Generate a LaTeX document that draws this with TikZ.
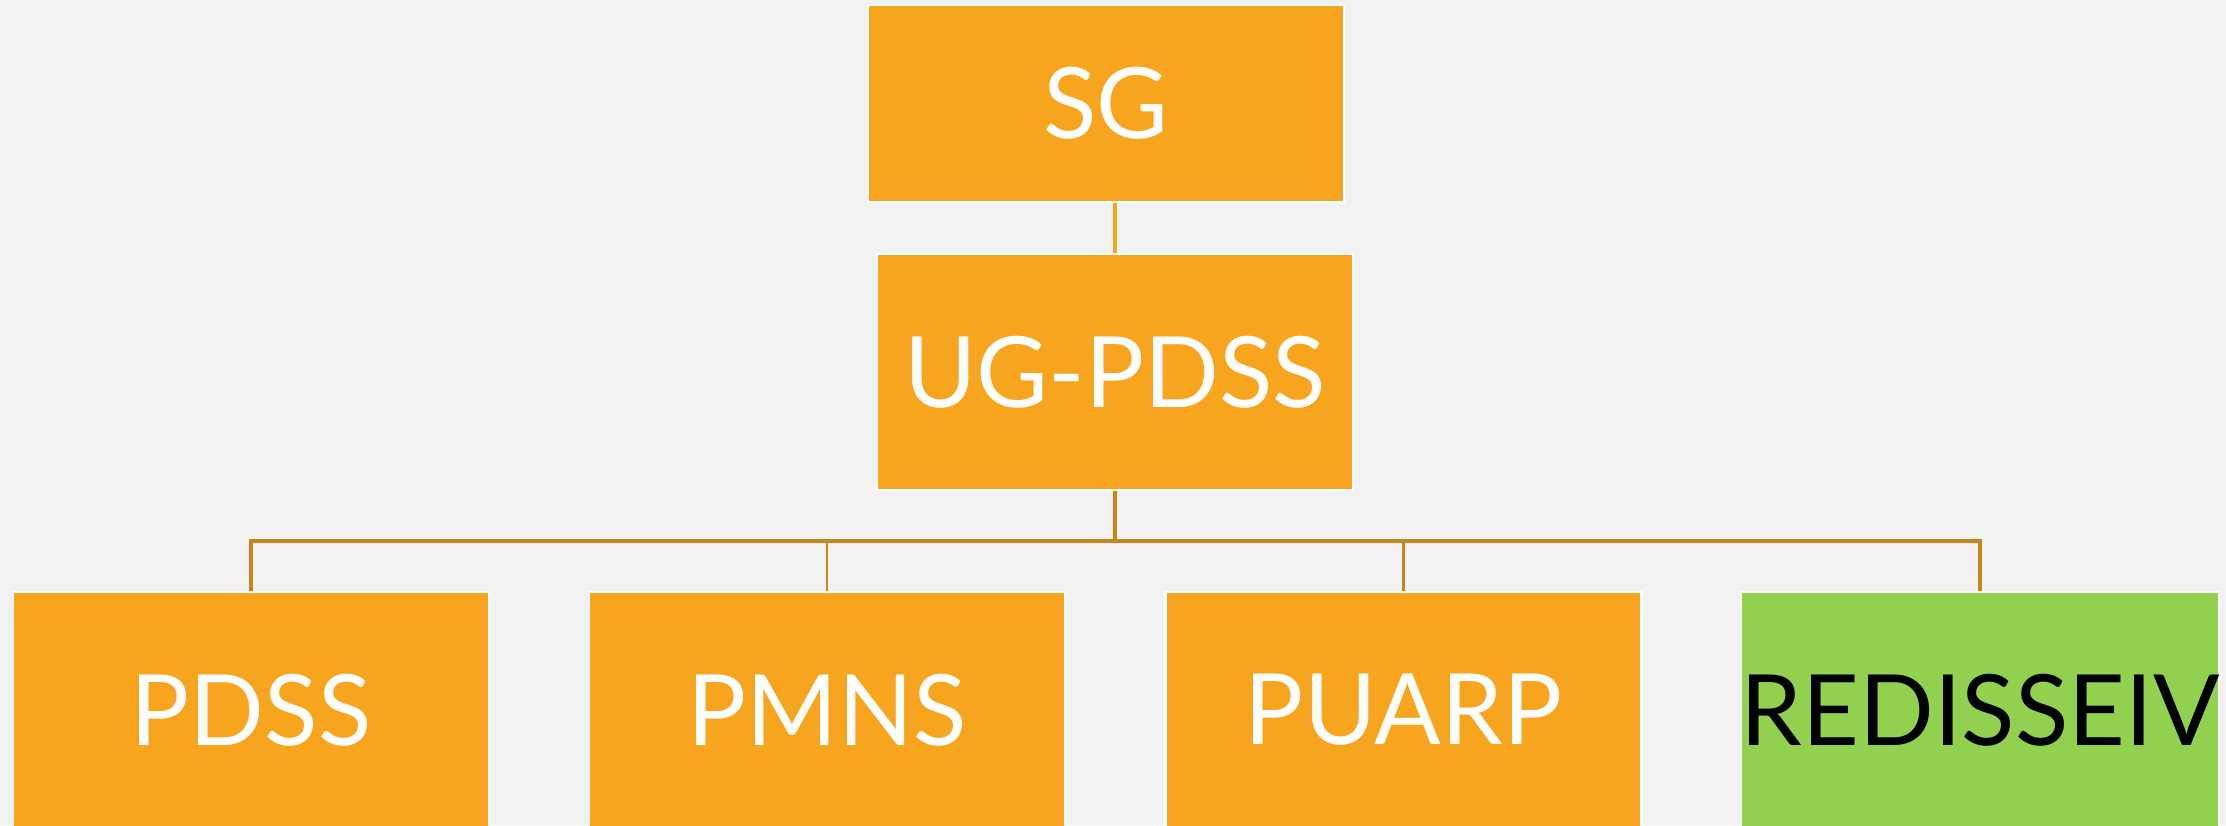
\documentclass[tikz,border=0pt]{standalone}
\usepackage{fontspec}
\setmainfont{Lato}
\definecolor{bgray}{HTML}{F2F2F2}
\definecolor{borange}{HTML}{F7A41E}
\definecolor{bgreen}{HTML}{92D050}
\definecolor{lorange}{HTML}{C9841C}

\begin{document}
\begin{tikzpicture}[
        unitbox/.style={draw=white, line width=0.6pt, fill=borange, text=white, minimum width=4.76cm, minimum height=2.36cm, inner sep=0pt, font=\fontsize{28}{34}\selectfont},
        tieline/.style={draw=lorange, line width=0.9pt}
    ]
                \fill[bgray] (0,0) rectangle (22.26,8.25);
                \useasboundingbox (0,0) rectangle (22.26,8.25);

                \node[unitbox, minimum height=1.97cm] (sg) at (11.06,7.215) {SG};
                \node[unitbox] (ugpdss) at (11.15,4.53) {UG-PDSS};

                \node[unitbox] (pdss) at (2.51,1.15) {PDSS};
                \node[unitbox] (pmns) at (8.27,1.15) {PMNS};
                \node[unitbox] (puarp) at (14.035,1.15) {PUARP};
                \node[unitbox, fill=bgreen, text=black] (redisseiv) at (19.80,1.15) {REDISSEIV};

                \coordinate (bus) at (11.15,2.84);

                \draw[white, line width=1.7pt] (ugpdss.north) -- (ugpdss.north |- sg.south);
                \draw[borange, line width=0.9pt] (ugpdss.north) -- (ugpdss.north |- sg.south);
                \draw[tieline] (ugpdss.south) -- (bus);
                \draw[tieline] (pdss.north) |- (bus) -| (redisseiv.north);
                \foreach \n in {pmns,puarp}
                    \draw[tieline, line width=0.6pt] (\n.north) -- (\n.north |- bus);
            \end{tikzpicture}
\end{document}
